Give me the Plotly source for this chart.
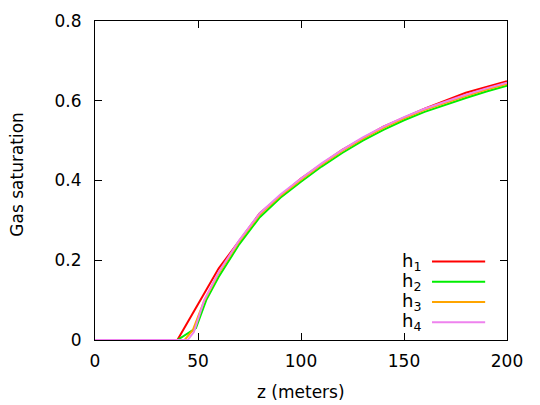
"""Gas saturation profiles along z for four grid spacings h1..h4."""

import plotly.graph_objects as go

# --- data ---
z_h1 = [0, 20, 40, 60, 80, 100, 120, 140, 160, 180, 200]
sg_h1 = [0, 0, 0, 0.179, 0.318, 0.405, 0.477, 0.535, 0.580, 0.620, 0.649]

z_h2 = [0, 20, 40, 49, 54, 60, 70, 80, 90, 100, 110, 120, 130, 140, 150, 160, 170, 180, 190, 200]
sg_h2 = [0, 0, 0, 0.030, 0.100, 0.158, 0.240, 0.308, 0.357, 0.397, 0.435, 0.469, 0.500,
         0.527, 0.551, 0.572, 0.590, 0.607, 0.623, 0.638]

z_h3 = [0, 20, 43.5, 47.5, 53, 60, 70, 80, 90, 100, 110, 120, 130, 140, 150, 160, 170, 180, 190, 200]
sg_h3 = [0, 0, 0, 0.025, 0.098, 0.167, 0.247, 0.315, 0.362, 0.402, 0.440, 0.474, 0.505,
         0.532, 0.556, 0.577, 0.595, 0.612, 0.628, 0.642]

z_h4 = [0, 20, 45, 48, 53, 60, 70, 80, 90, 100, 110, 120, 130, 140, 150, 160, 170, 180, 190, 200]
sg_h4 = [0, 0, 0, 0.020, 0.100, 0.170, 0.250, 0.318, 0.365, 0.405, 0.443, 0.477, 0.508,
         0.535, 0.559, 0.580, 0.598, 0.615, 0.631, 0.645]

x_ticks = [0, 50, 100, 150, 200]
y_ticks = [0, 0.2, 0.4, 0.6, 0.8]
y_tick_labels = ["0", "0.2", "0.4", "0.6", "0.8"]

series = [
    ("h<sub>1</sub>", z_h1, sg_h1, "#ff0000"),
    ("h<sub>2</sub>", z_h2, sg_h2, "#00ee00"),
    ("h<sub>3</sub>", z_h3, sg_h3, "#ffa500"),
    ("h<sub>4</sub>", z_h4, sg_h4, "#ee82ee"),
]

FONT = "DejaVu Sans"
FSIZE = 17

fig = go.Figure()
for name, zs, sg, color in series:
    fig.add_trace(go.Scatter(
        x=zs, y=sg, mode="lines", name=name,
        line={"color": color, "width": 2},
        showlegend=False,
    ))

# gnuplot-like key: label on the left, line sample on the right
for i, (name, _, _, color) in enumerate(series):
    ky = 0.246 - i * 0.0635
    fig.add_annotation(
        x=0.795, y=ky, xref="paper", yref="paper",
        text=name, showarrow=False, xanchor="right", yanchor="middle",
        font={"family": FONT, "size": 18, "color": "black"},
    )
    fig.add_shape(
        type="line", xref="paper", yref="paper",
        x0=0.818, x1=0.947, y0=ky, y1=ky,
        line={"color": color, "width": 2},
    )

# axis titles placed where gnuplot put them
fig.add_annotation(
    x=0.5, y=-0.162, xref="paper", yref="paper", text="z (meters)",
    showarrow=False, xanchor="center", yanchor="middle",
    font={"family": FONT, "size": FSIZE, "color": "black"},
)
fig.add_annotation(
    x=-0.188, y=0.52, xref="paper", yref="paper", text="Gas saturation",
    showarrow=False, textangle=-90, xanchor="center", yanchor="middle",
    font={"family": FONT, "size": FSIZE, "color": "black"},
)

axis_common = {
    "showgrid": False, "zeroline": False, "automargin": False,
    "showline": True, "linecolor": "black", "linewidth": 1,
    "mirror": "ticks", "ticks": "inside", "ticklen": 7, "tickcolor": "black",
    "tickfont": {"family": FONT, "size": FSIZE, "color": "black"},
}

fig.update_xaxes(range=[0, 200], tickvals=x_ticks, ticklabelstandoff=6, **axis_common)
fig.update_yaxes(range=[0, 0.8], tickvals=y_ticks, ticktext=y_tick_labels,
                 ticklabelstandoff=9, **axis_common)

# the page puts the figure 8 px in from the top-left corner
fig.update_layout(
    width=532, height=397,
    margin={"l": 87, "r": 33, "t": 13, "b": 65},
    plot_bgcolor="white", paper_bgcolor="white",
    font={"family": FONT, "size": FSIZE, "color": "black"},
)

fig.write_html("out.html")
